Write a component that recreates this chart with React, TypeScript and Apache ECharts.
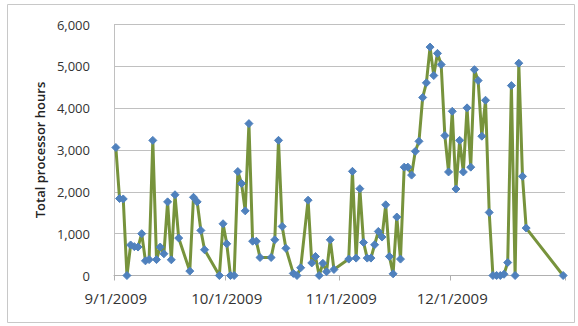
import React, { useEffect, useRef } from "react";
import * as echarts from "echarts";

const startDate = "9/1/2009";
const endDate = "12/31/2009";

const dates = [
  "9/1/2009", "9/2/2009", "9/3/2009", "9/4/2009", "9/5/2009", "9/6/2009", "9/7/2009", "9/8/2009",
  "9/9/2009", "9/10/2009", "9/11/2009", "9/12/2009", "9/13/2009", "9/14/2009", "9/15/2009", "9/16/2009",
  "9/17/2009", "9/18/2009", "9/21/2009", "9/22/2009", "9/23/2009", "9/24/2009", "9/25/2009", "9/29/2009",
  "9/30/2009", "10/1/2009", "10/2/2009", "10/3/2009", "10/4/2009", "10/5/2009", "10/6/2009", "10/7/2009",
  "10/8/2009", "10/9/2009", "10/10/2009", "10/13/2009", "10/14/2009", "10/15/2009", "10/16/2009", "10/17/2009",
  "10/19/2009", "10/20/2009", "10/21/2009", "10/23/2009", "10/24/2009", "10/25/2009", "10/26/2009", "10/27/2009",
  "10/28/2009", "10/29/2009", "10/30/2009", "11/3/2009", "11/4/2009", "11/5/2009", "11/6/2009", "11/7/2009",
  "11/8/2009", "11/9/2009", "11/10/2009", "11/11/2009", "11/12/2009", "11/13/2009", "11/14/2009", "11/15/2009",
  "11/16/2009", "11/17/2009", "11/18/2009", "11/19/2009", "11/20/2009", "11/21/2009", "11/22/2009", "11/23/2009",
  "11/24/2009", "11/25/2009", "11/26/2009", "11/27/2009", "11/28/2009", "11/29/2009", "11/30/2009", "12/1/2009",
  "12/2/2009", "12/3/2009", "12/4/2009", "12/5/2009", "12/6/2009", "12/7/2009", "12/8/2009", "12/9/2009",
  "12/10/2009", "12/11/2009", "12/12/2009", "12/13/2009", "12/14/2009", "12/15/2009", "12/16/2009", "12/17/2009",
  "12/18/2009", "12/19/2009", "12/20/2009", "12/21/2009", "12/31/2009",
];

const hours = [
  3060, 1840, 1830, 0, 730, 690, 680, 1000,
  350, 380, 3230, 380, 680, 520, 1760, 375,
  1930, 895, 105, 1870, 1760, 1077, 615, 0,
  1237, 758, 0, 0, 2485, 2200, 1545, 3631,
  820, 820, 430, 430, 854, 3231, 1173, 650,
  50, 0, 185, 1800, 300, 455, 0, 290,
  90, 854, 144, 392, 2490, 416, 2075, 790,
  416, 416, 735, 1053, 919, 1690, 455, 40,
  1398, 392, 2590, 2590, 2400, 2968, 3207, 4255,
  4605, 5460, 4780, 5310, 5043, 3344, 2475, 3925,
  2068, 3231, 2475, 4007, 2590, 4920, 4660, 3330,
  4189, 1508, 0, 0, 0, 30, 310, 4540,
  0, 5075, 2370, 1134, 0,
];

const yTitle = "Total processor hours";
const yMin = 0;
const yMax = 6000;
const yStep = 1000;

function parseDate(s: string): Date {
  const [m, d, y] = s.split("/").map(Number);
  return new Date(y, m - 1, d);
}

function fmt(dt: Date): string {
  return `${dt.getMonth() + 1}/${dt.getDate()}/${dt.getFullYear()}`;
}

function buildDays(): string[] {
  const out: string[] = [];
  const s = parseDate(startDate);
  const e = parseDate(endDate);
  for (let dt = new Date(s); dt <= e; dt = new Date(dt.getFullYear(), dt.getMonth(), dt.getDate() + 1)) {
    out.push(fmt(dt));
  }
  return out;
}

export default function App() {
  const ref = useRef<HTMLDivElement>(null);

  useEffect(() => {
    if (!ref.current) return;
    const chart = echarts.init(ref.current, undefined, { renderer: "svg" });
    const days = buildDays();
    const lookup: Record<string, number> = {};
    dates.forEach((d, i) => (lookup[d] = hours[i]));
    const seriesData = days.map((d) => (d in lookup ? lookup[d] : null));
    const isMonthStart = (_i: number, v: string) => v.split("/")[1] === "1";

    chart.setOption({
      animation: false,
      backgroundColor: "#ffffff",
      textStyle: { fontFamily: "Open Sans" },
      graphic: [
        {
          type: "rect",
          shape: { x: 7.5, y: 4.5, width: 567, height: 318 },
          style: { fill: "none", stroke: "#c8c8c8", lineWidth: 1 },
          silent: true,
        },
      ],
      grid: { left: 114, right: 13, top: 24.5, bottom: 50.5, containLabel: false },
      xAxis: {
        type: "category",
        data: days,
        boundaryGap: true,
        axisLine: { show: true, lineStyle: { color: "#b0b0b0", width: 1 } },
        axisTick: { show: true, interval: isMonthStart, alignWithLabel: false, length: 5, lineStyle: { color: "#b0b0b0" } },
        axisLabel: {
          interval: isMonthStart,
          margin: 15,
          fontSize: 15,
          color: "#333333",
          fontFamily: "Open Sans",
        },
        splitLine: { show: false },
      },
      yAxis: {
        type: "value",
        min: yMin,
        max: yMax,
        interval: yStep,
        name: yTitle,
        nameLocation: "middle",
        nameGap: 62,
        nameRotate: 90,
        nameTextStyle: { fontSize: 13, color: "#222222", fontFamily: "Open Sans", fontWeight: 600 },
        axisLine: { show: true, lineStyle: { color: "#c0c0c0", width: 1 } },
        axisTick: { show: false },
        axisLabel: {
          margin: 24,
          fontSize: 13,
          color: "#333333",
          fontFamily: "Open Sans",
          formatter: (v: number) => v.toLocaleString("en-US"),
        },
        splitLine: { show: true, lineStyle: { color: "#c0c0c0", width: 1 } },
      },
      series: [
        {
          type: "line",
          data: seriesData,
          connectNulls: true,
          symbol: "diamond",
          symbolSize: 8,
          showAllSymbol: true,
          itemStyle: { color: "#4f81bd", borderColor: "#4f81bd" },
          lineStyle: { color: "#77933c", width: 3 },
        },
      ],
    });
    return () => chart.dispose();
  }, []);

  return (
    <div
      ref={ref}
      style={{ position: "fixed", left: 0, top: 0, width: 578, height: 326, background: "#fff" }}
    />
  );
}
